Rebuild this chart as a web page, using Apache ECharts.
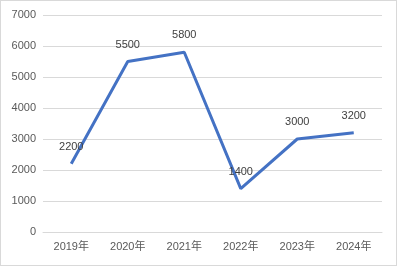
<!DOCTYPE html>
<html><head><meta charset="utf-8">
<script src="https://cdn.jsdelivr.net/npm/echarts@6/dist/echarts.min.js"></script>
<style>html,body{margin:0;padding:0;background:#fff}#c{width:397px;height:266px;box-sizing:border-box;border:1px solid #d9d9d9}</style>
</head><body><div id="c"></div>
<script>
const categories = ['2019年','2020年','2021年','2022年','2023年','2024年'];
const values = [2200, 5500, 5800, 1400, 3000, 3200];
const chart = echarts.init(document.getElementById('c'));
const font = "'Liberation Sans','Noto Sans CJK SC',sans-serif";
chart.setOption({
  animation:false,
  grid:{left:42,right:14,top:14,bottom:33},
  xAxis:{type:'category',data:categories,boundaryGap:true,
    axisLine:{show:true,lineStyle:{color:'#d9d9d9'}},axisTick:{show:false},
    axisLabel:{color:'#595959',fontSize:11,fontFamily:font,margin:9}},
  yAxis:{type:'value',min:0,max:7000,interval:1000,
    axisLine:{show:false},axisTick:{show:false},
    splitLine:{lineStyle:{color:'#d9d9d9'}},
    axisLabel:{color:'#595959',fontSize:11,fontFamily:font,margin:7,formatter:v=>String(v)}},
  series:[{type:'line',data:values,symbol:'circle',symbolSize:1,showSymbol:true,
    itemStyle:{color:'rgba(0,0,0,0)',borderWidth:0},
    lineStyle:{color:'#4472C4',width:3},
    label:{show:true,position:'top',distance:11,color:'#404040',fontSize:11,fontFamily:font}}]
});
</script></body></html>
